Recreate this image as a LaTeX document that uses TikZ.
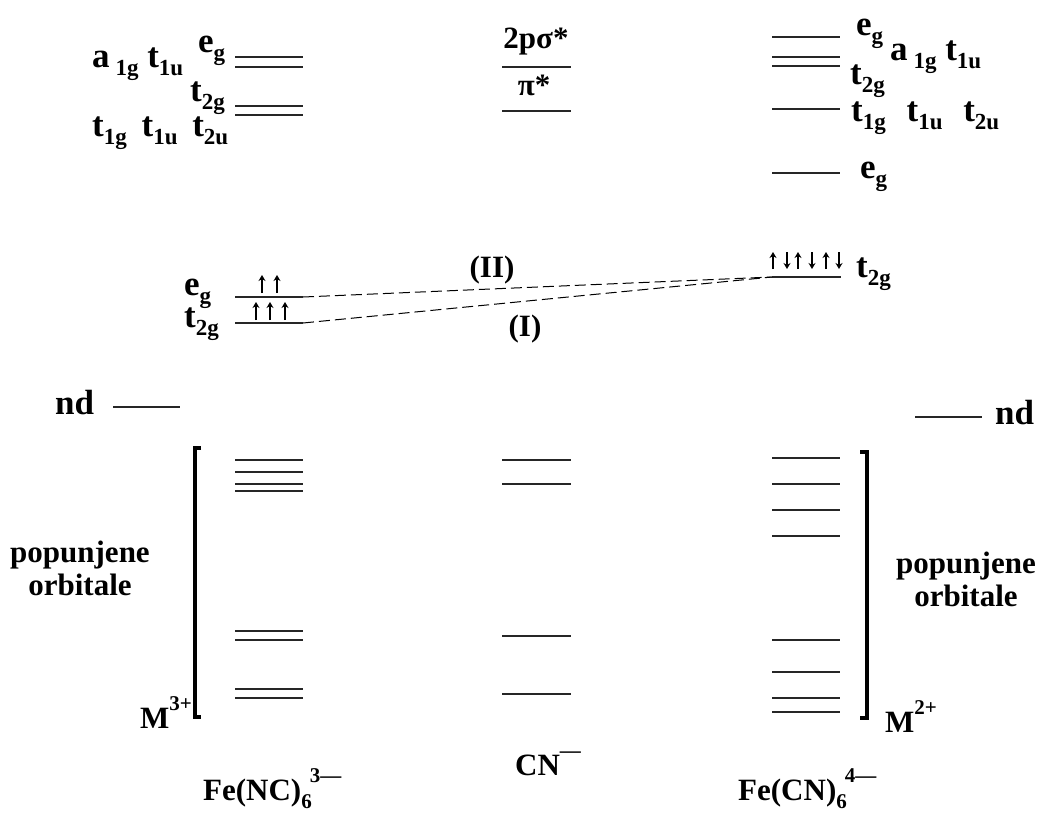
\documentclass[tikz,border=0pt]{standalone}
\usepackage{fontspec}
\setmainfont{Liberation Serif}
\usetikzlibrary{arrows.meta}
\newcommand\lo[1]{\raisebox{-0.28em}{\fontsize{21}{21}\selectfont #1}}
\newcommand\hi[1]{\raisebox{0.55em}{\fontsize{21}{21}\selectfont #1}}
\newcommand\olo[1]{\raisebox{-0.25em}{\fontsize{23}{23}\selectfont #1}}
\tikzset{
  lvl/.style={line width=1.4pt, draw=black!85},
  lbl/.style={font=\fontsize{31}{33}\selectfont\bfseries, inner sep=0pt, anchor=base west},
  lblc/.style={lbl, anchor=base},
  orb/.style={lbl, font=\fontsize{35}{36}\selectfont\bfseries},
  spin/.style={line width=1.4pt, -{Stealth[length=6pt,width=7pt]}},
  brk/.style={line width=4pt, line cap=butt, line join=miter},
  dsh/.style={line width=1pt, dash pattern=on 11pt off 5pt}
}
\begin{document}
\begin{tikzpicture}[x=1pt,y=-1pt]
\useasboundingbox (0,0) rectangle (1038,814);
% ---------- top left: Fe(NC)6 3- antibonding
\foreach \y in {57,67,106,115} \draw[lvl] (235,\y) -- (303,\y);
\node[orb] (egA) at (198,52) {e\olo{g}};
\node[orb] (a1A) at (92,67) {a\,\olo{1g} t\olo{1u}};
\node[orb] (t2A) at (190,101) {t\olo{2g}};
\node[orb] (t1A) at (92,136) {t\olo{1g}\hspace{6pt} t\olo{1u}\hspace{6pt} t\olo{2u}};
% ---------- top middle: CN-
\draw[lvl] (502,67) -- (571,67);
\draw[lvl] (502,111) -- (571,111);
\node[lblc] (sig) at (536,48) {2pσ*};
\node[lblc] (pis) at (534,95) {π*};
% ---------- top right: Fe(CN)6 4-
\foreach \y in {37,57,66,109,173} \draw[lvl] (772,\y) -- (840,\y);
\node[orb] (egB) at (856,35) {e\olo{g}};
\node[orb] (a1B) at (890,60) {a\,\olo{1g} t\olo{1u}};
\node[orb] (t2B) at (850,84) {t\olo{2g}};
\node[orb] (t1B) at (851,121) {t\olo{1g}\hspace{12pt} t\olo{1u}\hspace{12pt} t\olo{2u}};
\node[orb] (egC) at (860,178) {e\olo{g}};
% ---------- d levels
\coordinate (egLw) at (235,297); \coordinate (egL) at (303,297);
\coordinate (t2Lw) at (235,323); \coordinate (t2L) at (303,323);
\coordinate (t2Rw) at (772,277); \coordinate (t2R) at (841,277);
\draw[lvl] (egLw) -- (egL);
\draw[lvl] (t2Lw) -- (t2L);
\draw[lvl] (t2Rw) -- (t2R);
\node[orb] (egD) at (184,295) {e\olo{g}};
\node[orb] (t2D) at (184,327) {t\olo{2g}};
\node[orb] (t2E) at (856,277) {t\olo{2g}};
% spins
\foreach \x in {262,277} \draw[spin] (\x,293) -- (\x,275);
\foreach \x in {256,270,285} \draw[spin] (\x,320) -- (\x,302);
\foreach \x in {773,798,826} \draw[spin] (\x,269) -- (\x,252);
\foreach \x in {787,812,839} \draw[spin] (\x,252) -- (\x,269);
% dashed connectors
\draw[dsh] (egL) -- (t2Rw);
\draw[dsh] (t2L) -- (t2Rw);
\node[lblc] (II) at (492,277) {(II)};
\node[lblc] (I) at (525,336) {(I)};
% ---------- nd
\coordinate (ndLa) at (113,407); \coordinate (ndLb) at (180,407);
\coordinate (ndRa) at (915,417); \coordinate (ndRb) at (982,417);
\draw[lvl] (ndLa) -- (ndLb);
\draw[lvl] (ndRa) -- (ndRb);
\node[orb] (ndL) at (55,414) {nd};
\node[orb] (ndR) at (995,424) {nd};
% ---------- filled orbitals
\foreach \y in {460,472,484,491,631,640,689,698} \draw[lvl] (235,\y) -- (303,\y);
\foreach \y in {460,484,636,694} \draw[lvl] (502,\y) -- (571,\y);
\foreach \y in {458,484,510,536,640,672,698,712} \draw[lvl] (772,\y) -- (840,\y);
\draw[brk] (201,448) -- (195,448) -- (195,717) -- (201,717);
\draw[brk] (860,452) -- (867,452) -- (867,718) -- (860,718);
\node[lbl, anchor=base, align=center] (popL) at (80,595) {popunjene\\orbitale};
\node[lbl, anchor=base, align=center] (popR) at (966,606) {popunjene\\orbitale};
\node[lbl] (M3) at (140,728) {M\hi{3+}};
\node[lbl] (M2) at (885,732) {M\hi{2+}};
% ---------- bottom labels
\node[lbl] (FeA) at (203,800) {Fe(NC)\lo{6}\kern-2pt\hi{3—}};
\node[lbl] (CN) at (515,775) {CN\hi{—}};
\node[lbl] (FeB) at (738,800) {Fe(CN)\lo{6}\kern-2pt\hi{4—}};
\end{tikzpicture}
\end{document}
